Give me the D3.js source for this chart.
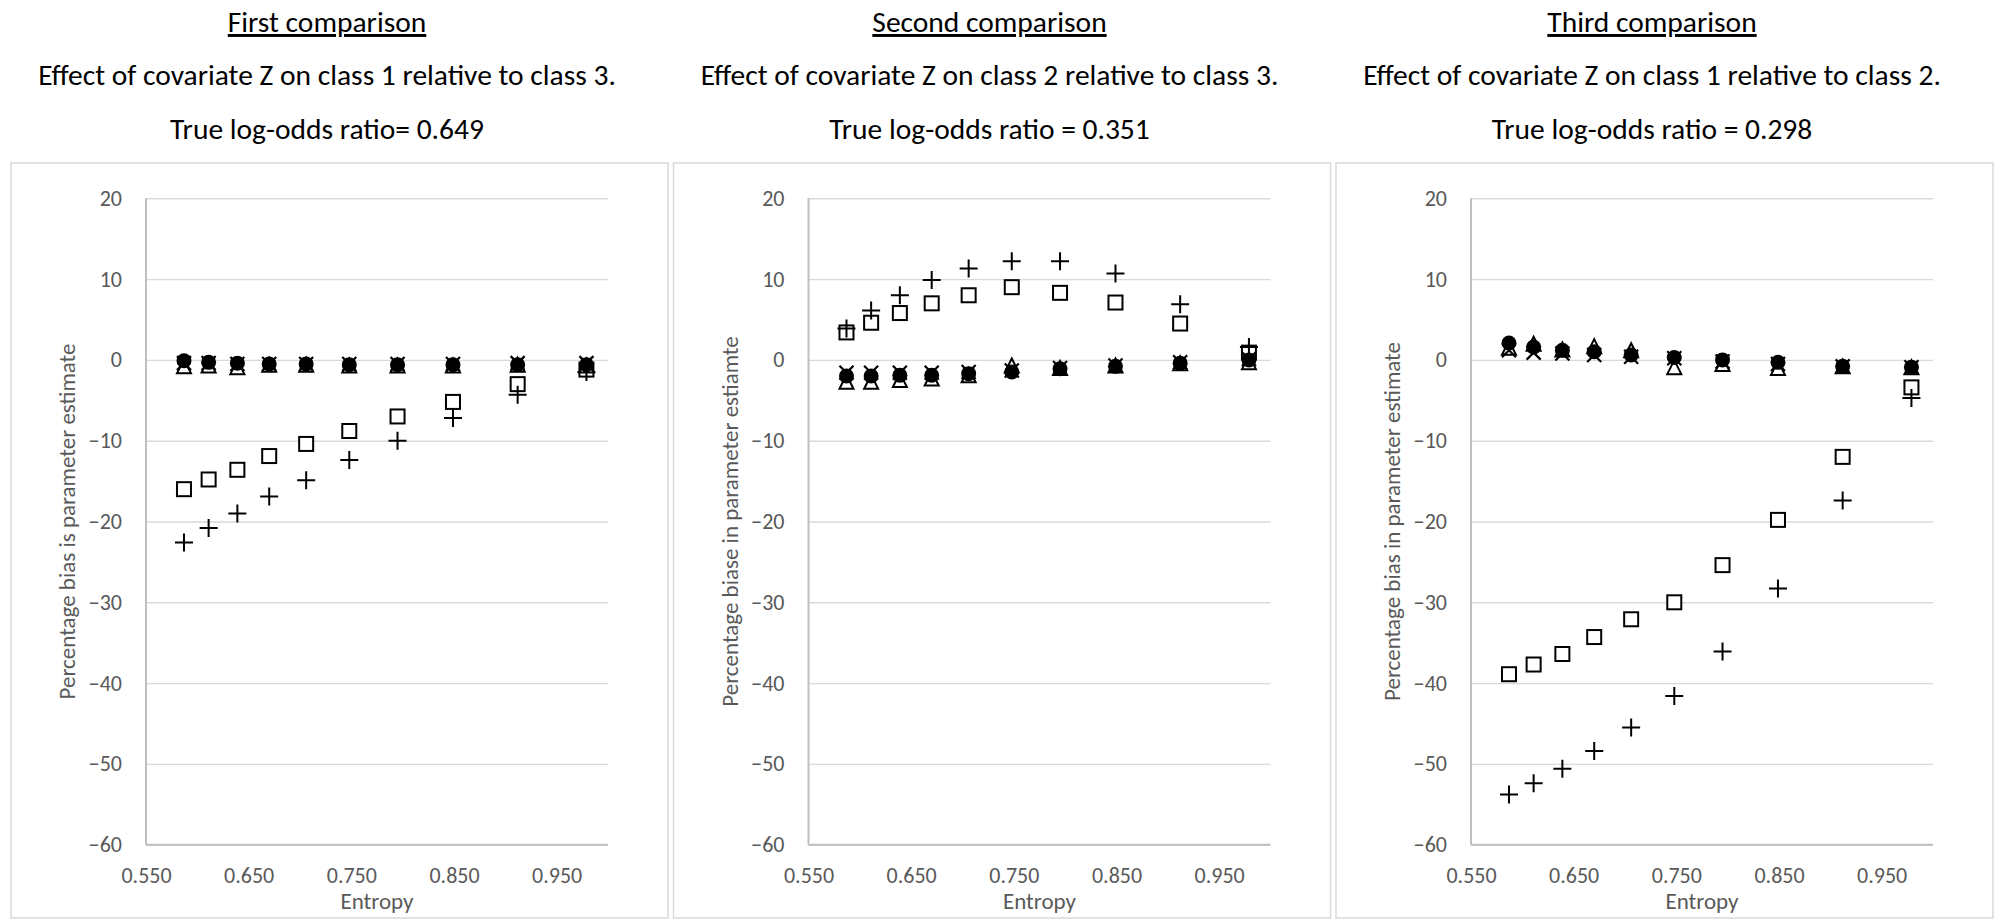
<!DOCTYPE html>
<html>
<head>
<meta charset="utf-8">
<script src="https://cdn.jsdelivr.net/npm/d3@7"></script>
<style>
  body { margin: 0; background: #fff; }
  text { font-family: Carlito, Calibri, Lato, sans-serif; }
</style>
</head>
<body>
<div id="chart"></div>
<script>
// entropy of the ten simulated conditions (same in every panel)
var entropy = [0.587, 0.611, 0.639, 0.670, 0.706, 0.748, 0.795, 0.849, 0.912, 0.979];

// first comparison: class 1 vs class 3
var p1Circle   = [-0.1, -0.3, -0.4, -0.5, -0.5, -0.6, -0.6, -0.6, -0.6, -0.6];
var p1Triangle = [-0.8, -0.7, -0.9, -0.6, -0.6, -0.7, -0.7, -0.7, -0.6, -0.7];
var p1Cross    = [-0.4, -0.4, -0.5, -0.5, -0.5, -0.5, -0.5, -0.5, -0.4, -0.4];
var p1Square   = [-16.0, -14.8, -13.6, -11.9, -10.4, -8.8, -7.0, -5.2, -3.0, -1.2];
var p1Plus     = [-22.6, -20.8, -19.0, -16.9, -14.9, -12.4, -10.0, -7.2, -4.3, -1.5];

// second comparison: class 2 vs class 3
var p2Circle   = [-2.0, -2.0, -1.9, -1.9, -1.7, -1.5, -1.1, -0.8, -0.4, 0.0];
var p2Triangle = [-2.7, -2.7, -2.5, -2.3, -1.9, -0.7, -1.0, -0.7, -0.4, -0.3];
var p2Cross    = [-1.6, -1.6, -1.6, -1.6, -1.5, -1.3, -1.0, -0.7, -0.3, 0.1];
var p2Square   = [3.4, 4.6, 5.8, 7.0, 8.0, 9.0, 8.3, 7.1, 4.5, 0.9];
var p2Plus     = [3.9, 6.1, 8.0, 9.9, 11.3, 12.2, 12.2, 10.7, 6.9, 1.6];

// third comparison: class 1 vs class 2
var p3Circle   = [2.1, 1.6, 1.2, 1.0, 0.6, 0.3, 0.0, -0.3, -0.8, -0.9];
var p3Triangle = [1.5, 2.0, 1.3, 1.7, 1.2, -0.9, -0.5, -1.0, -0.8, -0.9];
var p3Cross    = [1.2, 0.9, 0.8, 0.6, 0.4, 0.2, -0.2, -0.5, -0.8, -0.9];
var p3Square   = [-38.9, -37.7, -36.4, -34.3, -32.1, -30.0, -25.4, -19.8, -12.0, -3.4];
var p3Plus     = [-53.8, -52.4, -50.6, -48.4, -45.5, -41.6, -36.1, -28.3, -17.4, -4.7];

var headings  = ["First comparison", "Second comparison", "Third comparison"];
var subtitles = ["Effect of covariate Z on class 1 relative to class 3.",
                 "Effect of covariate Z on class 2 relative to class 3.",
                 "Effect of covariate Z on class 1 relative to class 2."];
var trueRatio = ["True log-odds ratio= 0.649",
                 "True log-odds ratio = 0.351",
                 "True log-odds ratio = 0.298"];
var yTitles   = ["Percentage bias is parameter estimate",
                 "Percentage biase in parameter estiamte",
                 "Percentage bias in parameter estimate"];
var xTicks = [0.55, 0.65, 0.75, 0.85, 0.95];
var yTicks = [-60, -50, -40, -30, -20, -10, 0, 10, 20];

var panelSeries = [
  [p1Square, p1Plus, p1Triangle, p1Cross, p1Circle],
  [p2Square, p2Plus, p2Triangle, p2Cross, p2Circle],
  [p3Square, p3Plus, p3Triangle, p3Cross, p3Circle]
];
var markerTypes = ["square", "plus", "triangle", "cross", "circle"];

// svg sizes
var svgWidth = 2000;
var svgHeight = 920;

var panelW = 657, panelH = 755, panelTop = 163, panelStep = 662.5;
var margin = {top: 35.3, right: 60, bottom: 73.3, left: 135};
var width = panelW - margin.left - margin.right;
var height = panelH - margin.top - margin.bottom;

var svg = d3.select("#chart")
  .append("svg")
  .attr("width", svgWidth)
  .attr("height", svgHeight);

var xScale = d3.scaleLinear().domain([0.55, 1.0]).range([0, width]);
var yScale = d3.scaleLinear().domain([-60, 20]).range([height, 0]);

function drawMarker(sel, type) {
  if (type == "circle") {
    sel.append("circle").attr("r", 7.5).attr("fill", "#000");
  } else if (type == "square") {
    sel.append("rect").attr("x", -7).attr("y", -7).attr("width", 14).attr("height", 14)
      .attr("fill", "#fff").attr("stroke", "#000").attr("stroke-width", 2);
  } else if (type == "triangle") {
    sel.append("path").attr("d", "M0,-7L7,7L-7,7Z")
      .attr("fill", "#fff").attr("stroke", "#000").attr("stroke-width", 2);
  } else if (type == "cross") {
    sel.append("path").attr("d", "M-7,-7L7,7M-7,7L7,-7")
      .attr("stroke", "#000").attr("stroke-width", 2.2);
  } else {
    sel.append("path").attr("d", "M-9,0H9M0,-9V9")
      .attr("stroke", "#000").attr("stroke-width", 2);
  }
}

headings.forEach(function(h, i) {
  var px = 11 + i * panelStep;

  // titles above each panel
  var titleX = px + 316;
  svg.append("text").attr("x", titleX).attr("y", 32)
    .attr("text-anchor", "middle").attr("font-size", "29.5px")
    .style("text-decoration", "underline").text(h);
  svg.append("text").attr("x", titleX).attr("y", 85)
    .attr("text-anchor", "middle").attr("font-size", "29.5px").text(subtitles[i]);
  svg.append("text").attr("x", titleX).attr("y", 139)
    .attr("text-anchor", "middle").attr("font-size", "29.5px").text(trueRatio[i]);

  // chart frame
  svg.append("rect")
    .attr("x", px).attr("y", panelTop)
    .attr("width", panelW).attr("height", panelH)
    .attr("fill", "#fff").attr("stroke", "#d9d9d9").attr("stroke-width", 1.5);

  var chartGroup = svg.append("g")
    .attr("transform", `translate(${px + margin.left}, ${panelTop + margin.top})`);

  // gridlines
  chartGroup.append("g")
    .call(d3.axisLeft(yScale).tickValues(yTicks).tickSize(-width).tickFormat(""))
    .call(g => g.select(".domain").remove())
    .call(g => g.selectAll("line").attr("stroke", "#d9d9d9").attr("stroke-width", 1.4));

  // axis lines
  chartGroup.append("line").attr("x1", 0).attr("x2", 0).attr("y1", 0).attr("y2", height)
    .attr("stroke", "#bfbfbf").attr("stroke-width", 2);
  chartGroup.append("line").attr("x1", 0).attr("x2", width).attr("y1", height).attr("y2", height)
    .attr("stroke", "#bfbfbf").attr("stroke-width", 2);

  // tick labels
  chartGroup.append("g")
    .call(d3.axisLeft(yScale).tickValues(yTicks).tickSize(0).tickPadding(24))
    .call(g => g.select(".domain").remove())
    .call(g => g.selectAll("text").attr("fill", "#595959").attr("font-size", "22px")
      .style("font-family", "Carlito, Calibri, Lato, sans-serif"));

  chartGroup.append("g")
    .attr("transform", `translate(0, ${height})`)
    .call(d3.axisBottom(xScale).tickValues(xTicks).tickSize(0).tickPadding(23).tickFormat(d3.format(".3f")))
    .call(g => g.select(".domain").remove())
    .call(g => g.selectAll("text").attr("fill", "#595959").attr("font-size", "22px")
      .style("font-family", "Carlito, Calibri, Lato, sans-serif"));

  // axis titles
  chartGroup.append("text")
    .attr("x", width / 2).attr("y", height + 64)
    .attr("text-anchor", "middle").attr("fill", "#595959").attr("font-size", "23px")
    .text("Entropy");

  chartGroup.append("text")
    .attr("transform", "rotate(-90)")
    .attr("x", -height / 2).attr("y", -79)
    .attr("dy", "0.35em")
    .attr("text-anchor", "middle").attr("fill", "#595959").attr("font-size", "23px")
    .text(yTitles[i]);

  // markers
  panelSeries[i].forEach(function(values, s) {
    var pts = chartGroup.selectAll(null)
      .data(values)
      .enter()
      .append("g")
      .attr("transform", (d, k) => `translate(${xScale(entropy[k])}, ${yScale(d)})`);
    drawMarker(pts, markerTypes[s]);
  });
});
</script>
</body>
</html>
